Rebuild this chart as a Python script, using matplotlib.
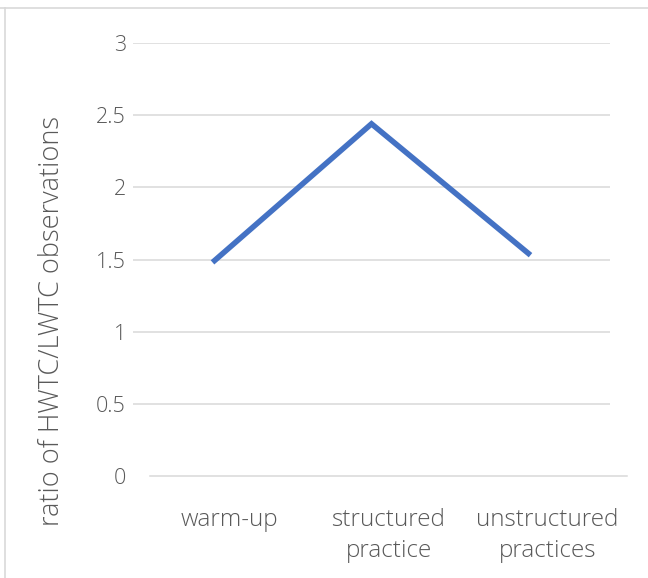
import matplotlib
matplotlib.use("Agg")
import matplotlib.pyplot as plt
import matplotlib.transforms as mtransforms
from matplotlib.lines import Line2D
import numpy as np

# --- data ---
categories = ["warm-up", "structured\npractice", "unstructured\npractices"]
ratios = [1.48, 2.44, 1.53]
y_ticks = [0, 0.5, 1, 1.5, 2, 2.5, 3]
y_tick_labels = ["0", "0.5", "1", "1.5", "2", "2.5", "3"]

LINE_COLOR = "#4472C4"
GRID_COLOR = "#D9D9D9"
TEXT_COLOR = "#595959"

plt.rcParams["font.family"] = ["Open Sans", "DejaVu Sans"]

fig = plt.figure(figsize=(6.48, 5.78), dpi=100)
ax = fig.add_axes([133 / 648, 1 - 476 / 578, 477 / 648, (476 - 43) / 578])

x = np.arange(len(categories))
ax.plot(x, ratios, color=LINE_COLOR, linewidth=4, solid_capstyle="butt", solid_joinstyle="miter")

ax.set_xlim(-0.5, len(categories) - 0.5)
ax.set_ylim(0, 3)
ax.set_yticks(y_ticks)
ax.set_yticklabels(y_tick_labels, fontsize=15.5, fontweight="light")
ax.set_xticks(x)
ax.set_xticklabels(categories, linespacing=1.38, fontsize=17.5, fontweight="light")

# gridlines (zero line drawn separately, it sits a bit to the right in the original)
for yv in y_ticks[1:]:
    ax.axhline(yv, color=GRID_COLOR, linewidth=1.1, zorder=0)
shift = mtransforms.ScaledTranslation(17 / 100, 0, fig.dpi_scale_trans)
ax.add_line(Line2D([0, 1], [0, 0], transform=ax.transAxes + shift,
                   color=GRID_COLOR, linewidth=1.1, clip_on=False, zorder=0))

for s in ax.spines.values():
    s.set_visible(False)
ax.tick_params(axis="both", length=0, colors=TEXT_COLOR)
ax.tick_params(axis="y", pad=5)
ax.tick_params(axis="x", pad=23)
for lbl in ax.get_xticklabels():
    lbl.set_transform(lbl.get_transform() + shift)

ax.set_ylabel("ratio of HWTC/LWTC observations", fontsize=19.5, fontweight="light", color=TEXT_COLOR)
ax.yaxis.set_label_coords(-0.14, 0.357)

# chart frame edges visible in the crop
fig.add_artist(Line2D([0, 1], [1 - 7.5 / 578] * 2, transform=fig.transFigure, color=GRID_COLOR, linewidth=1.2))
fig.add_artist(Line2D([4.5 / 648] * 2, [0, 1 - 7.5 / 578], transform=fig.transFigure, color=GRID_COLOR, linewidth=1.2))

fig.savefig("out.png", dpi=100)
